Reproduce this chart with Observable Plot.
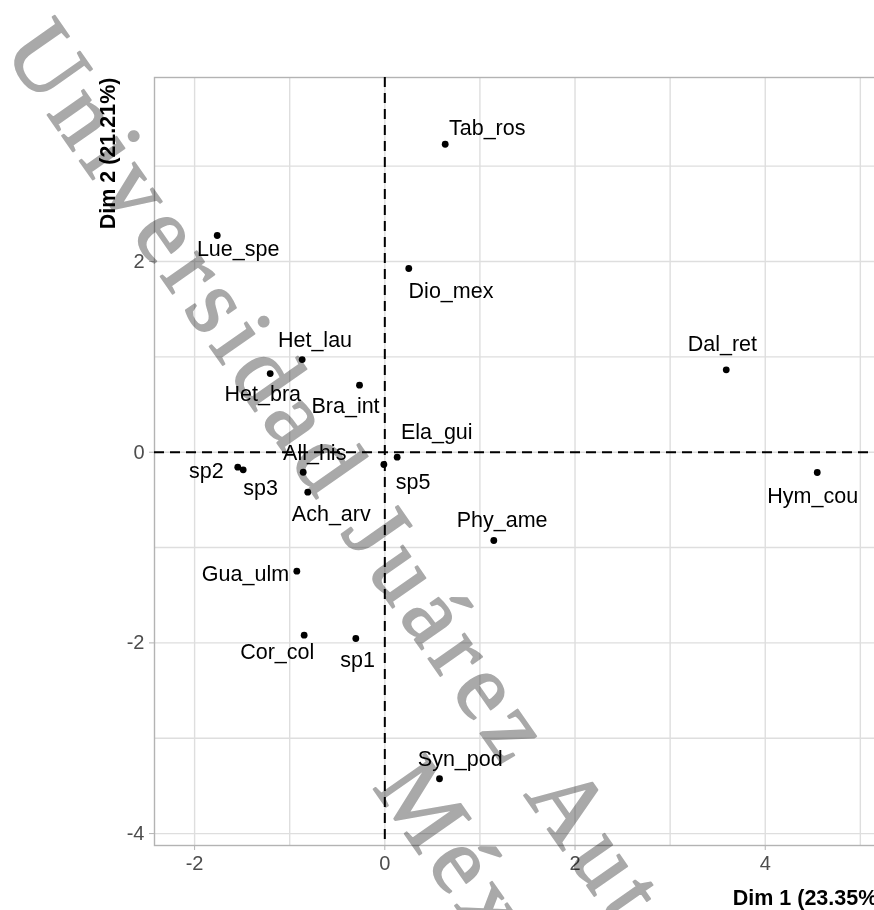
<!DOCTYPE html>
<html>
<head>
<meta charset="utf-8">
<script src="https://cdn.jsdelivr.net/npm/d3@7"></script>
<script src="https://cdn.jsdelivr.net/npm/@observablehq/plot@0.6"></script>
<style>
  html, body { margin: 0; padding: 0; background: white; overflow: hidden; width: 874px; height: 910px; }
</style>
</head>
<body>
<div id="chart"></div>
<script>
// Species (individuals) of the PCA biplot
const names = ["Tab_ros","Lue_spe","Dio_mex","Het_lau","Het_bra","Bra_int","Ela_gui","sp5","All_his","Ach_arv","sp2","sp3","Gua_ulm","Cor_col","sp1","Syn_pod","Phy_ame","Dal_ret","Hym_cou"];
// Coordinates on Dim 1 and Dim 2
const dim1 = [0.635,-1.762,0.252,-0.869,-1.205,-0.266,0.130,-0.010,-0.858,-0.810,-1.546,-1.489,-0.925,-0.848,-0.305,0.575,1.146,3.590,4.547];
const dim2 = [3.230,2.273,1.927,0.972,0.825,0.703,-0.052,-0.129,-0.210,-0.419,-0.157,-0.185,-1.248,-1.919,-1.954,-3.425,-0.926,0.864,-0.213];
// Repelled label positions (data units)
const labelDim1 = [1.077,-1.542,0.696,-0.734,-1.283,-0.413,0.546,0.297,-0.737,-0.563,-1.877,-1.305,-1.465,-1.131,-0.287,0.793,1.234,3.549,4.499];
const labelDim2 = [3.398,2.133,1.694,1.179,0.612,0.479,0.210,-0.315,-0.010,-0.646,-0.199,-0.373,-1.275,-2.098,-2.177,-3.216,-0.716,1.130,-0.461];

const xTicks = [-2, 0, 2, 4];
const yTicks = [-4, -2, 0, 2];
const xGrid = [-2, -1, 0, 1, 2, 3, 4, 5];
const yGrid = [-4, -3, -2, -1, 0, 1, 2, 3];
const xTitle = "Dim 1 (23.35%)";
const yTitle = "Dim 2 (21.21%)";
const watermarkLines = ["Universidad Juárez Autónoma de Tabasco", "México"];

const table = names.map((n, i) => ({name: n, x: dim1[i], y: dim2[i], lx: labelDim1[i], ly: labelDim2[i]}));

const sans = "'Liberation Sans', Arial, Helvetica, sans-serif";

const chart = Plot.plot({
  width: 894,
  height: 910,
  marginLeft: 154,
  marginTop: 77,
  marginBottom: 65,
  marginRight: 10,
  x: {domain: [-2.4216, 5.254]},
  y: {domain: [-4.125, 3.930]},
  style: {fontFamily: sans, background: "white", maxWidth: "none"},
  marks: [
    Plot.ruleX(xGrid, {stroke: "#dedede", strokeWidth: 1.4}),
    Plot.ruleY(yGrid, {stroke: "#dedede", strokeWidth: 1.4}),
    Plot.frame({stroke: "#b3b3b3", strokeWidth: 1.4}),
    Plot.axisX({ticks: xTicks, tickSize: 5, tickPadding: 5, stroke: "#b3b3b3", fill: "#4d4d4d", fontSize: 20, tickFormat: d => String(d), label: null}),
    Plot.axisY({ticks: yTicks, tickSize: 5, tickPadding: 5, stroke: "#b3b3b3", fill: "#4d4d4d", fontSize: 20, tickFormat: d => String(d), label: null}),
    Plot.ruleX([0], {stroke: "black", strokeWidth: 2, strokeDasharray: "10,6"}),
    Plot.ruleY([0], {stroke: "black", strokeWidth: 2, strokeDasharray: "10,6"}),
    Plot.dot(table, {x: "x", y: "y", r: 3.4, fill: "black", stroke: null}),
    Plot.text(table, {x: "lx", y: "ly", text: "name", fontSize: 21.5, fill: "black", textAnchor: "middle", lineAnchor: "middle"}),
    Plot.text([xTitle], {frameAnchor: "bottom-right", text: d => d, textAnchor: "end", lineAnchor: "middle", dy: 53, fontSize: 21.5, fontWeight: "bold", fill: "black"}),
    Plot.text([yTitle], {frameAnchor: "top-left", text: d => d, textAnchor: "end", lineAnchor: "middle", rotate: -90, dx: -46, fontSize: 21.5, fontWeight: "bold", fill: "black"})
  ]
});

// Diagonal, letter-spaced watermark drawn on top, multiplied so the chart shows through
const wm = d3.select(chart).append("g")
  .attr("style", "mix-blend-mode: multiply")
  .attr("font-family", "'Liberation Serif', 'DejaVu Serif', serif")
  .attr("font-size", 96)
  .attr("letter-spacing", 8)
  .attr("text-anchor", "start")
  .attr("fill", "#a9a9a9")
  .attr("stroke", "#a9a9a9")
  .attr("stroke-width", 1.8)
  .attr("stroke-linejoin", "round");
const wmStarts = [[2, 50], [372, 787]];
wm.selectAll("text").data(watermarkLines).join("text")
  .attr("text-anchor", "start")
  .attr("transform", (d, i) => `translate(${wmStarts[i][0]},${wmStarts[i][1]}) rotate(55)`)
  .text(d => d);

document.getElementById("chart").appendChild(chart);
</script>
</body>
</html>
